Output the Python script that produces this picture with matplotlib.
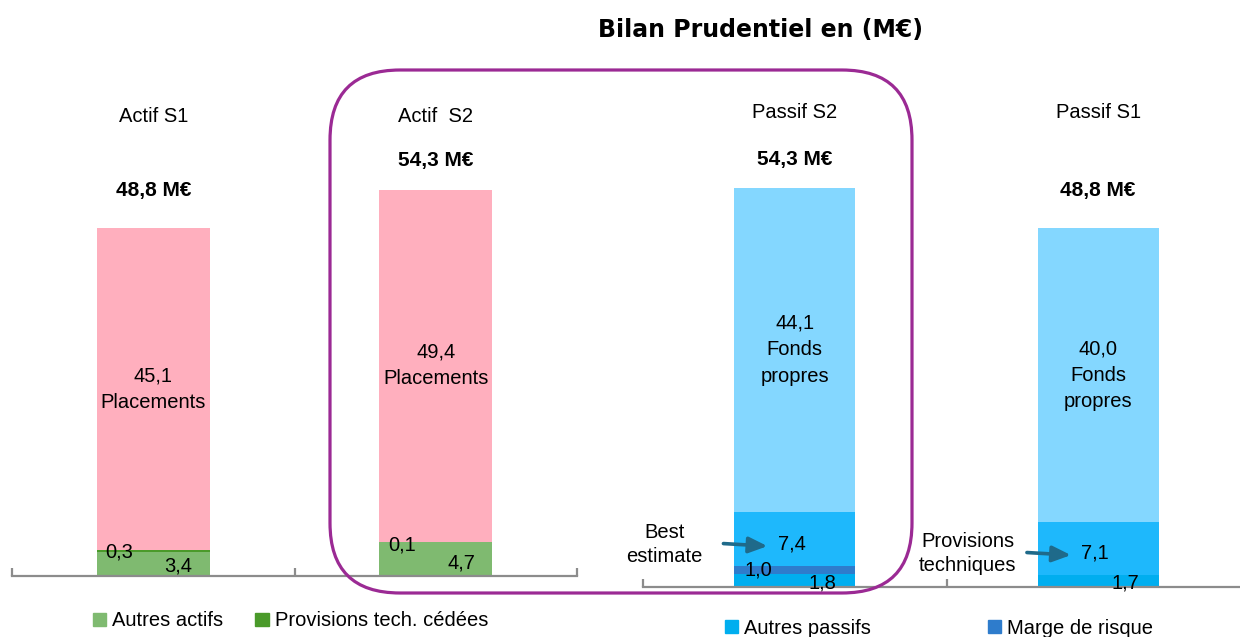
import numpy as np
import matplotlib
matplotlib.use("Agg")
import matplotlib.pyplot as plt
from matplotlib.patches import FancyBboxPatch, Patch

plt.rcParams['font.family'] = ['Liberation Sans', 'DejaVu Sans']

# === données ===
actif_cats = ['Actif S1', 'Actif  S2']
actif_totaux = [48.8, 54.3]
actif_autres = [3.4, 4.7]          # Autres actifs
actif_prov_cedees = [0.3, 0.1]     # Provisions tech. cédées
actif_placements = [45.1, 49.4]

passif_cats = ['Passif S2', 'Passif S1']
passif_totaux = [54.3, 48.8]
passif_autres = [1.8, 1.7]         # Autres passifs
passif_marge = [1.0, 0.0]          # Marge de risque
passif_be = [7.4, 7.1]             # Best estimate / Provisions techniques
passif_fp = [44.1, 40.0]           # Fonds propres
passif_notes = ['Best\nestimate', 'Provisions\ntechniques']

C_PINK = '#ffafbe'
C_GREEN_L = '#7fba70'
C_GREEN_D = '#4a9a2a'
C_FP = '#84d7ff'
C_BE = '#1eb8fc'
C_MARGE = '#2e7ccc'
C_AUTRES_P = '#00aeef'
C_AXIS = '#8c8c8c'
C_ARROW = '#1f6a8a'

FS = 14.5


def fmt(v):
    return f"{v:.1f}".replace('.', ',')


def style_axis(ax, ncat):
    ax.set_xlim(0, ncat)
    ax.set_ylim(0, 70)
    for s in ['top', 'right', 'left']:
        ax.spines[s].set_visible(False)
    ax.spines['bottom'].set_color(C_AXIS)
    ax.spines['bottom'].set_linewidth(1.6)
    ax.set_yticks([])
    ax.set_xticks(np.arange(ncat + 1))
    ax.set_xticklabels([])
    ax.tick_params(axis='x', direction='in', length=6, width=1.6, color=C_AXIS)
    ax.patch.set_alpha(0)


fig = plt.figure(figsize=(12.4, 6.37), dpi=100)

# --- Actif ---
ax1 = fig.add_axes([12 / 1240, 61 / 637, 565 / 1240, 499 / 637])
x = np.arange(len(actif_cats)) + 0.5
w = 0.4
ax1.bar(x, actif_autres, w, color=C_GREEN_L)
b2 = np.array(actif_autres)
ax1.bar(x, actif_prov_cedees, w, bottom=b2, color=C_GREEN_D)
b3 = b2 + np.array(actif_prov_cedees)
ax1.bar(x, actif_placements, w, bottom=b3, color=C_PINK)
style_axis(ax1, len(actif_cats))

for i in range(len(actif_cats)):
    ax1.text(x[i], 64.4, actif_cats[i], ha='center', va='center', fontsize=FS, clip_on=False)
    ax1.text(x[i], actif_totaux[i] + (5.3 if actif_totaux[i] < 50 else 4.0),
             fmt(actif_totaux[i]) + ' M€', ha='center', va='center',
             fontsize=15, fontweight='bold', clip_on=False)
    ax1.text(x[i], b3[i] + actif_placements[i] / 2, fmt(actif_placements[i]) + '\nPlacements',
             ha='center', va='center', fontsize=FS, linespacing=1.5)
    ax1.text(x[i] - 0.12, b3[i] - 0.4, fmt(actif_prov_cedees[i]), ha='center', va='center', fontsize=FS)
    ax1.text(x[i] + 0.09, b2[i] * 0.4, fmt(actif_autres[i]), ha='center', va='center', fontsize=FS)

# --- Passif ---
ax2 = fig.add_axes([643 / 1240, 50 / 637, 607 / 1240, 514.5 / 637])
x2 = np.arange(len(passif_cats)) + 0.5
ax2.bar(x2, passif_autres, w, color=C_AUTRES_P)
p2 = np.array(passif_autres)
ax2.bar(x2, passif_marge, w, bottom=p2, color=C_MARGE)
p3 = p2 + np.array(passif_marge)
ax2.bar(x2, passif_be, w, bottom=p3, color=C_BE)
p4 = p3 + np.array(passif_be)
ax2.bar(x2, passif_fp, w, bottom=p4, color=C_FP)
style_axis(ax2, len(passif_cats))

for i in range(len(passif_cats)):
    ax2.text(x2[i], 64.5, passif_cats[i], ha='center', va='center', fontsize=FS, clip_on=False)
    ax2.text(x2[i], passif_totaux[i] + (5.2 if passif_totaux[i] < 50 else 3.9),
             fmt(passif_totaux[i]) + ' M€', ha='center', va='center',
             fontsize=15, fontweight='bold', clip_on=False)
    ax2.text(x2[i], p4[i] + passif_fp[i] / 2, fmt(passif_fp[i]) + '\nFonds\npropres',
             ha='center', va='center', fontsize=FS, linespacing=1.5)
    ax2.text(x2[i] - 0.01, p3[i] + passif_be[i] * 0.42, fmt(passif_be[i]),
             ha='center', va='center', fontsize=FS)
    if passif_marge[i] > 0:
        ax2.text(x2[i] - 0.12, p2[i] + passif_marge[i] / 2, fmt(passif_marge[i]),
                 ha='center', va='center', fontsize=FS)
    ax2.text(x2[i] + 0.09, passif_autres[i] * 0.3, fmt(passif_autres[i]),
             ha='center', va='center', fontsize=FS, clip_on=False)
    ty = p3[i] + passif_be[i] * 0.4
    ax2.text(x2[i] - 0.43, ty, passif_notes[i], ha='center', va='center',
             fontsize=FS, linespacing=1.35)
    ax2.annotate('', xy=(x2[i] - 0.09, ty - 0.2), xytext=(x2[i] - 0.235, ty + 0.15),
                 arrowprops=dict(arrowstyle='-|>,head_length=0.7,head_width=0.3',
                                 lw=2.6, color=C_ARROW, mutation_scale=16,
                                 shrinkA=0, shrinkB=0))

# --- titre ---
fig.text(760 / 1240, 1 - 30 / 637, 'Bilan Prudentiel en (M€)', ha='center', va='center',
         fontsize=17, fontweight='bold', family='DejaVu Sans')

# --- cadre S2 ---
box = FancyBboxPatch((3.30, 0.44), 5.82, 5.23, boxstyle='round,pad=0,rounding_size=0.7',
                     transform=fig.dpi_scale_trans, fill=False, edgecolor='#9b2a94', lw=2.3)
fig.patches.append(box)

# --- légendes ---
leg_kw = dict(frameon=False, ncol=2, handlelength=0.65, handleheight=0.65,
              handletextpad=0.3, borderpad=0, borderaxespad=0, fontsize=FS, loc='center left')
fig.legend([Patch(color=C_GREEN_L), Patch(color=C_GREEN_D)],
           ['Autres actifs', 'Provisions tech. cédées'],
           bbox_to_anchor=(93 / 1240, 1 - 621 / 637), columnspacing=1.6, **leg_kw)
fig.legend([Patch(color=C_AUTRES_P), Patch(color=C_MARGE)],
           ['Autres passifs', 'Marge de risque'],
           bbox_to_anchor=(725 / 1240, 1 - 628 / 637), columnspacing=5.8, **leg_kw)

fig.savefig('out.png', dpi=100)
